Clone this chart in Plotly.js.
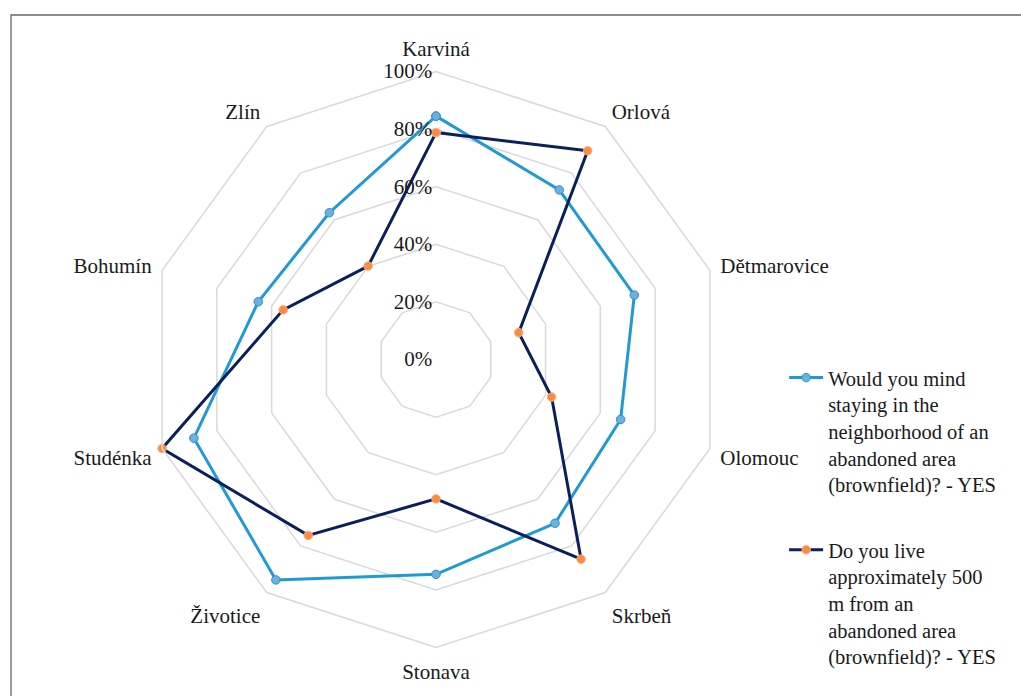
<!DOCTYPE html>
<html>
<head>
<meta charset="utf-8">
<script src="https://cdn.plot.ly/plotly-3.0.1.min.js"></script>
<style>html,body{margin:0;padding:0;background:#fff;}#chart{width:1021px;height:696px;}</style>
</head>
<body>
<div id="chart"></div>
<script>
const categories = ["Karviná", "Orlová", "Dětmarovice", "Olomouc", "Skrbeň", "Stonava", "Životice", "Studénka", "Bohumín", "Zlín"];
const mindStaying = [84.5, 72.8, 72.4, 67.4, 70.3, 74.6, 94.6, 88.4, 64.9, 63.0];
const live500m = [78.8, 89.6, 30.2, 42.2, 85.7, 48.4, 75.5, 100, 55.8, 40.1];
const radialTicks = [0, 20, 40, 60, 80, 100];
const radialTickText = ["0%", "20%", "40%", "60%", "80%", "100%"];
const seriesNames = [
  "Would you mind<br>staying in the<br>neighborhood of an<br>abandoned area<br>(brownfield)? - YES",
  "Do you live<br>approximately 500<br>m from an<br>abandoned area<br>(brownfield)? - YES"
];

const close = a => a.concat([a[0]]);
const cats = close(categories);

const FAM = "Liberation Serif, DejaVu Serif, serif";
const font = {family: FAM, size: 21, color: "#1a1a1a"};
const legendFont = {family: FAM, size: 20.5, color: "#1a1a1a"};

const traces = [
  {
    type: "scatterpolar", mode: "lines+markers",
    r: close(mindStaying), theta: cats, name: seriesNames[0], legendgroup: "a",
    line: {color: "#1f9ad6", width: 3},
    marker: {size: 8.5, color: "#6cb0e0", line: {color: "#2e8fd0", width: 1}},
    cliponaxis: false
  },
  {
    type: "scatterpolar", mode: "lines+markers",
    r: close(live500m), theta: cats, name: seriesNames[1], legendgroup: "b",
    line: {color: "#0b1f5c", width: 3},
    marker: {size: 8.5, color: "#fb8a43", line: {color: "#ffae78", width: 1}},
    cliponaxis: false
  }
];

const layout = {
  width: 1021, height: 696,
  margin: {l: 0, r: 0, t: 0, b: 0},
  paper_bgcolor: "#fff",
  font: font,
  showlegend: true,
  legend: {
    x: 0.768, xanchor: "left", y: 0.486, yanchor: "top",
    valign: "top", font: legendFont, tracegroupgap: 36, itemwidth: 34,
    bgcolor: "rgba(0,0,0,0)"
  },
  polar: {
    domain: {x: [148/1021, 724/1021], y: [1 - 647.5/696, 1 - 71.5/696]},
    gridshape: "linear",
    bgcolor: "#fff",
    angularaxis: {
      type: "category", rotation: 90, direction: "clockwise",
      showgrid: false, showline: true, linecolor: "#d9d9d9", linewidth: 1.5,
      ticks: "outside", ticklen: 6, tickcolor: "rgba(0,0,0,0)", tickfont: font
    },
    radialaxis: {
      range: [0, 100], tickmode: "array", tickvals: radialTicks, ticktext: radialTickText,
      angle: 90, side: "counterclockwise", tickangle: 90,
      showline: false, ticks: "", gridcolor: "#d9d9d9", gridwidth: 1.5,
      tickfont: font
    }
  },
  shapes: [{
    type: "rect", xref: "paper", yref: "paper",
    x0: 11/1021, y0: 1 - 15/696, x1: 1.2, y1: -0.2,
    line: {color: "#666", width: 1.3}, fillcolor: "rgba(0,0,0,0)", layer: "below"
  }]
};

Plotly.newPlot("chart", traces, layout, {displayModeBar: false, staticPlot: true});
</script>
</body>
</html>
